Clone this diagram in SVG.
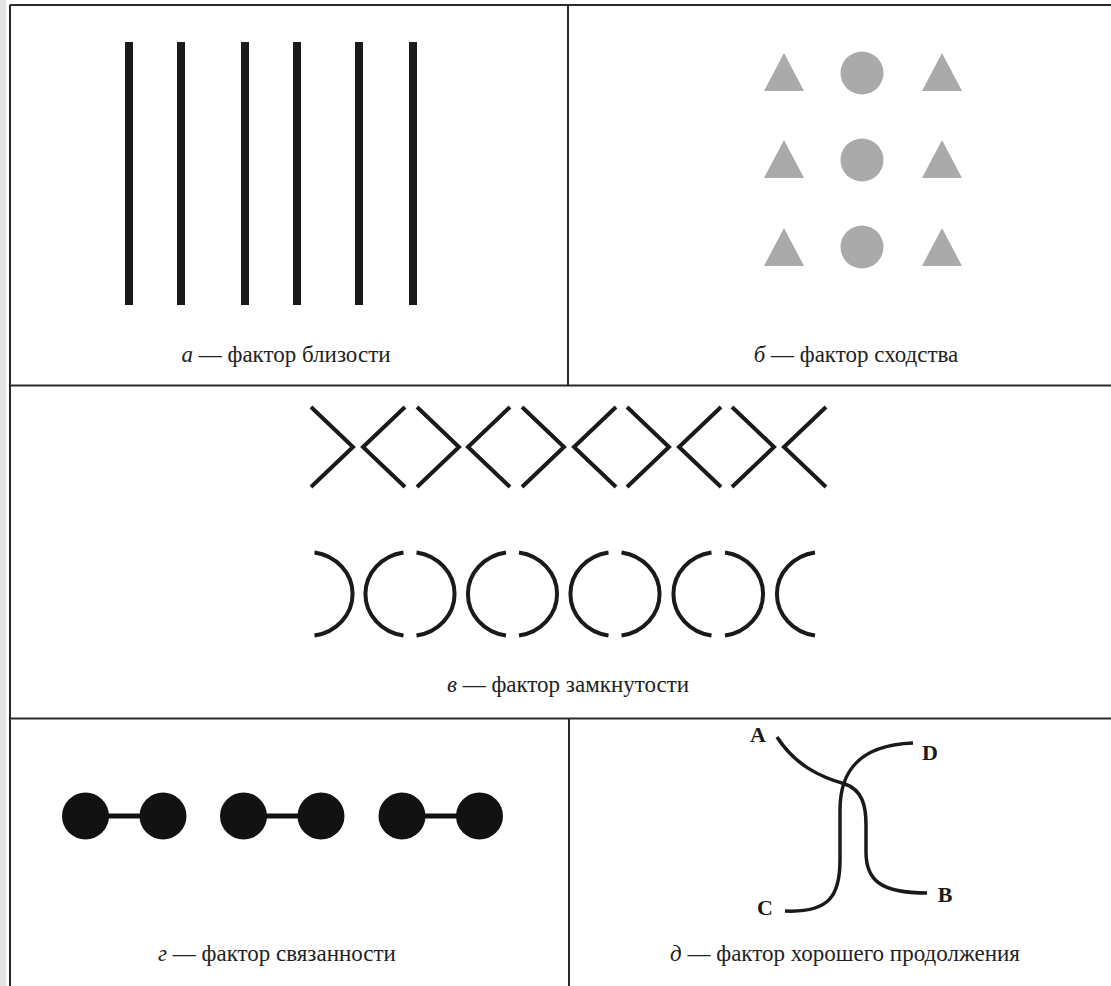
<svg xmlns="http://www.w3.org/2000/svg" width="1111" height="986" viewBox="0 0 1111 986">
<style>
.frame{stroke:#2a2a2a;stroke-width:2;fill:none}
.bar{stroke:#1a1a1a;stroke-width:8}
.gray{fill:#aaaaaa}
.ink{stroke:#1a1a1a;stroke-width:4;fill:none;stroke-linecap:butt}
.dot{fill:#121212}
.link{stroke:#121212;stroke-width:5}
.curve{stroke:#1a1a1a;stroke-width:3.5;fill:none}
.lbl{font-family:"Liberation Serif","DejaVu Serif",serif;font-size:23px;fill:#222;text-anchor:middle}
.it{font-style:italic}
.pt{font-family:"Liberation Serif","DejaVu Serif",serif;font-size:22px;font-weight:bold;fill:#1a1a1a;text-anchor:middle}
</style>
<rect width="1111" height="986" fill="#ffffff"/>
<rect x="0" y="0" width="6" height="986" fill="#e4e4e4"/>
<g id="frame">
<line class="frame" x1="10" y1="5" x2="1111" y2="5"/>
<line class="frame" x1="10" y1="5" x2="10" y2="986"/>
<line class="frame" x1="10" y1="385.5" x2="1111" y2="385.5"/>
<line class="frame" x1="10" y1="718.5" x2="1111" y2="718.5"/>
<line class="frame" x1="568" y1="5" x2="568" y2="385.5"/>
<line class="frame" x1="569" y1="718.5" x2="569" y2="986"/>
</g>
<g id="panel-a">
<line class="bar" x1="129" y1="42" x2="129" y2="305"/>
<line class="bar" x1="181" y1="42" x2="181" y2="305"/>
<line class="bar" x1="245" y1="42" x2="245" y2="305"/>
<line class="bar" x1="297" y1="42" x2="297" y2="305"/>
<line class="bar" x1="359" y1="42" x2="359" y2="305"/>
<line class="bar" x1="413" y1="42" x2="413" y2="305"/>
<text class="lbl" x="286" y="362"><tspan class="it">а</tspan> — фактор близости</text>
</g>
<g id="panel-b">
<polygon class="gray" points="784,53 764,91 804,91"/>
<circle class="gray" cx="862" cy="73" r="21.5"/>
<polygon class="gray" points="942,53 922,91 962,91"/>
<polygon class="gray" points="784,140 764,178 804,178"/>
<circle class="gray" cx="862" cy="160" r="21.5"/>
<polygon class="gray" points="942,140 922,178 962,178"/>
<polygon class="gray" points="784,228 764,266 804,266"/>
<circle class="gray" cx="862" cy="247" r="21.5"/>
<polygon class="gray" points="942,228 922,266 962,266"/>
<text class="lbl" x="856" y="362"><tspan class="it">б</tspan> — фактор сходства</text>
</g>
<g id="panel-c">
<path class="ink" d="M311,407 L353,447 L311,487"/>
<path class="ink" d="M405,407 L363,447 L405,487"/>
<path class="ink" d="M417,407 L459,447 L417,487"/>
<path class="ink" d="M510,407 L468,447 L510,487"/>
<path class="ink" d="M522,407 L564,447 L522,487"/>
<path class="ink" d="M616,407 L574,447 L616,487"/>
<path class="ink" d="M627,407 L669,447 L627,487"/>
<path class="ink" d="M721,407 L679,447 L721,487"/>
<path class="ink" d="M732,407 L774,447 L732,487"/>
<path class="ink" d="M826,407 L784,447 L826,487"/>
<path class="ink" d="M314.5,552.5 A45 42 0 0 1 314.5,635.5"/>
<path class="ink" d="M403.5,552.5 A45 42 0 0 0 403.5,635.5"/>
<path class="ink" d="M416.5,552.5 A45 42 0 0 1 416.5,635.5"/>
<path class="ink" d="M506,552.5 A45 42 0 0 0 506,635.5"/>
<path class="ink" d="M519,552.5 A45 42 0 0 1 519,635.5"/>
<path class="ink" d="M608.5,552.5 A45 42 0 0 0 608.5,635.5"/>
<path class="ink" d="M621.5,552.5 A45 42 0 0 1 621.5,635.5"/>
<path class="ink" d="M711.5,552.5 A45 42 0 0 0 711.5,635.5"/>
<path class="ink" d="M725,552.5 A45 42 0 0 1 725,635.5"/>
<path class="ink" d="M815,552.5 A45 42 0 0 0 815,635.5"/>
<text class="lbl" x="568" y="692"><tspan class="it">в</tspan> — фактор замкнутости</text>
</g>
<g id="panel-d">
<line class="link" x1="85.5" y1="816" x2="163" y2="816"/>
<line class="link" x1="243.5" y1="816" x2="321" y2="816"/>
<line class="link" x1="402" y1="816" x2="479.5" y2="816"/>
<circle class="dot" cx="85.5" cy="816" r="23.5"/>
<circle class="dot" cx="163" cy="816" r="23.5"/>
<circle class="dot" cx="243.5" cy="816" r="23.5"/>
<circle class="dot" cx="321" cy="816" r="23.5"/>
<circle class="dot" cx="402" cy="816" r="23.5"/>
<circle class="dot" cx="479.5" cy="816" r="23.5"/>
<text class="lbl" x="277" y="961"><tspan class="it">г</tspan> — фактор связанности</text>
</g>
<g id="panel-e">
<path class="curve" d="M777,737 C795,765 820,777 845,784 C862,790 866,805 866,825 L866,852 C866,880 880,893 927,893"/>
<path class="curve" d="M785,911 C830,913 840,895 840,860 L840,810 C840,770 860,745 913,743"/>
<text class="pt" x="758" y="742">A</text>
<text class="pt" x="930" y="760">D</text>
<text class="pt" x="765" y="915">C</text>
<text class="pt" x="945" y="902">B</text>
<text class="lbl" x="845" y="961"><tspan class="it">д</tspan> — фактор хорошего продолжения</text>
</g>
</svg>
